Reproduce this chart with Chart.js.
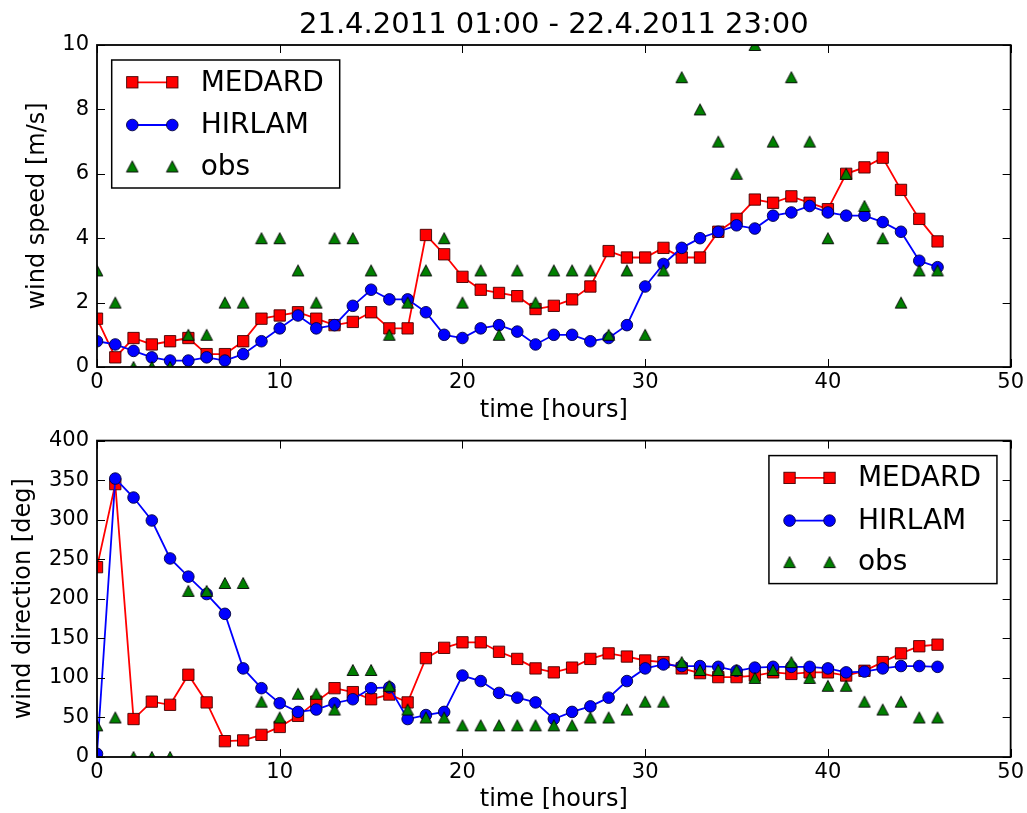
<!DOCTYPE html>
<html><head><meta charset="utf-8">
<script src="https://cdn.jsdelivr.net/npm/chart.js@4.4.1/dist/chart.umd.min.js"></script>
<style>
html,body{margin:0;padding:0;background:#fff;}
#wrap{position:relative;width:1027px;height:813px;overflow:hidden;background:#fff;}
canvas{position:absolute;left:0;}
#c1{top:0;}
#c2{top:420px;}
</style></head><body>
<div id="wrap"><canvas id="c1" width="1027" height="440"></canvas><canvas id="c2" width="1027" height="393"></canvas></div>
<script>
const titleText = '21.4.2011 01:00 - 22.4.2011 23:00';
const seriesNames = ['MEDARD', 'HIRLAM', 'obs'];
const hours = [0,1,2,3,4,5,6,7,8,9,10,11,12,13,14,15,16,17,18,19,20,21,22,23,24,25,26,27,28,29,30,31,32,33,34,35,36,37,38,39,40,41,42,43,44,45,46];

const speedMEDARD = [1.5,0.3,0.9,0.7,0.8,0.9,0.4,0.4,0.8,1.5,1.6,1.7,1.5,1.3,1.4,1.7,1.2,1.2,4.1,3.5,2.8,2.4,2.3,2.2,1.8,1.9,2.1,2.5,3.6,3.4,3.4,3.7,3.4,3.4,4.2,4.6,5.2,5.1,5.3,5.1,4.9,6.0,6.2,6.5,5.5,4.6,3.9];
const speedHIRLAM = [0.8,0.7,0.5,0.3,0.2,0.2,0.3,0.2,0.4,0.8,1.2,1.6,1.2,1.3,1.9,2.4,2.1,2.1,1.7,1.0,0.9,1.2,1.3,1.1,0.7,1.0,1.0,0.8,0.9,1.3,2.5,3.2,3.7,4.0,4.2,4.4,4.3,4.7,4.8,5.0,4.8,4.7,4.7,4.5,4.2,3.3,3.1];
const speedObs    = [3,2,0,0,0,1,1,2,2,4,4,3,2,4,4,3,1,2,3,4,2,3,1,3,2,3,3,3,1,3,1,3,9,8,7,6,10,7,9,7,4,6,5,4,2,3,3];

const dirMEDARD = [240,345,48,70,66,104,69,20,21,28,38,52,70,87,82,73,79,69,125,138,145,145,133,124,112,107,113,124,131,127,122,120,112,106,101,101,103,107,105,107,107,103,109,120,131,140,142];
const dirHIRLAM = [4,352,328,299,251,228,206,181,112,87,68,57,60,68,73,87,88,48,53,57,103,96,81,75,69,48,57,64,75,96,112,117,115,115,114,109,113,114,114,114,112,107,108,112,115,115,114];
const dirObs    = [40,50,0,0,0,210,210,220,220,70,50,80,80,60,110,110,90,60,50,50,40,40,40,40,40,40,40,50,50,60,70,70,120,110,110,110,100,110,120,100,90,90,70,60,70,50,50];

const xTicks = [0,10,20,30,40,50];
const speedTicks = [0,2,4,6,8,10];
const dirTicks = [0,50,100,150,200,250,300,350,400];

Chart.defaults.font.family = "'DejaVu Sans', sans-serif";
Chart.defaults.color = '#000';

function triangleImage() {
  const c = document.createElement('canvas');
  c.width = 14; c.height = 14;
  const g = c.getContext('2d');
  g.beginPath();
  g.moveTo(7, 1.5); g.lineTo(12.8, 12.5); g.lineTo(1.2, 12.5); g.closePath();
  g.fillStyle = '#008000'; g.fill();
  g.lineWidth = 0.9; g.strokeStyle = '#000'; g.stroke();
  return c;
}
const TRI = triangleImage();

function pts(ys) { return hours.map((h, i) => ({x: h, y: ys[i]})); }

const framePlugin = {
  id: 'mplFrame',
  afterDatasetsDraw(chart, args, opts) {
    const {ctx, chartArea: a} = chart;
    const xs = chart.scales.x, ys = chart.scales.y;
    const L = 8;
    ctx.save();
    ctx.strokeStyle = '#000';
    ctx.lineWidth = 1;
    xs.ticks.forEach(t => {
      const p = Math.round(xs.getPixelForValue(t.value)) + 0.5;
      ctx.beginPath();
      ctx.moveTo(p, a.bottom); ctx.lineTo(p, a.bottom - L);
      ctx.moveTo(p, a.top); ctx.lineTo(p, a.top + L);
      ctx.stroke();
    });
    ys.ticks.forEach(t => {
      const p = Math.round(ys.getPixelForValue(t.value)) + 0.5;
      ctx.beginPath();
      ctx.moveTo(a.left, p); ctx.lineTo(a.left + L, p);
      ctx.moveTo(a.right, p); ctx.lineTo(a.right - L, p);
      ctx.stroke();
    });
    ctx.lineWidth = 1.8;
    ctx.strokeRect(a.left, a.top, a.right - a.left, a.bottom - a.top);
    if (opts.title) {
      ctx.fillStyle = '#000';
      ctx.font = "29px 'DejaVu Sans', sans-serif";
      ctx.textAlign = 'center'; ctx.textBaseline = 'alphabetic';
      ctx.fillText(opts.title, (a.left + a.right) / 2, a.top - 12);
    }
    ctx.restore();
  }
};

const legendPlugin = {
  id: 'mplLegend',
  afterDraw(chart, args, opts) {
    const {ctx, chartArea: a} = chart;
    const W = 228, H = 128;
    const bx = opts.side === 'left' ? a.left + 14.7 : a.right - 13.7 - W;
    const by = a.top + 15;
    ctx.save();
    ctx.fillStyle = '#fff';
    ctx.fillRect(bx, by, W, H);
    ctx.lineWidth = 1.5; ctx.strokeStyle = '#000';
    ctx.strokeRect(bx, by, W, H);
    const rows = [22.3, 65, 106.5];
    const ordered = [...chart.data.datasets].sort((p, q) => q.order - p.order);
    ordered.forEach((ds, i) => {
      const y = by + rows[i];
      const m1 = bx + 20.6, m2 = bx + 60.6;
      if (ds.showLine !== false) {
        ctx.beginPath(); ctx.strokeStyle = ds.borderColor; ctx.lineWidth = ds.borderWidth;
        ctx.moveTo(m1, y); ctx.lineTo(m2, y); ctx.stroke();
      }
      [m1, m2].forEach(mx => {
        if (ds.pointStyle === 'rect') {
          const s = Math.SQRT1_2 * ds.pointRadius;
          ctx.fillStyle = ds.pointBackgroundColor; ctx.fillRect(mx - s, y - s, 2 * s, 2 * s);
          ctx.lineWidth = ds.pointBorderWidth; ctx.strokeStyle = ds.pointBorderColor;
          ctx.strokeRect(mx - s, y - s, 2 * s, 2 * s);
        } else if (ds.pointStyle === 'circle') {
          ctx.beginPath(); ctx.arc(mx, y, ds.pointRadius, 0, Math.PI * 2);
          ctx.fillStyle = ds.pointBackgroundColor; ctx.fill();
          ctx.lineWidth = ds.pointBorderWidth; ctx.strokeStyle = ds.pointBorderColor; ctx.stroke();
        } else {
          ctx.drawImage(ds.pointStyle, mx - 7, y - 7);
        }
      });
      ctx.fillStyle = '#000';
      ctx.font = "28px 'DejaVu Sans', sans-serif";
      ctx.textAlign = 'left'; ctx.textBaseline = 'middle';
      ctx.fillText(ds.label, bx + 89, y + 1);
    });
    ctx.restore();
  }
};

function buildChart(id, o) {
  return new Chart(document.getElementById(id), {
    type: 'line',
    data: {datasets: [
      {label: seriesNames[0], data: pts(o.med), borderColor: '#ff0000', backgroundColor: '#ff0000',
       pointBackgroundColor: '#ff0000', pointBorderColor: '#400000', borderWidth: 1.8,
       pointStyle: 'rect', pointRadius: 8, pointBorderWidth: 0.9, order: 3, clip: 0, tension: 0},
      {label: seriesNames[1], data: pts(o.hir), borderColor: '#0000ff', backgroundColor: '#0000ff',
       pointBackgroundColor: '#0000ff', pointBorderColor: '#000040', borderWidth: 1.8,
       pointStyle: 'circle', pointRadius: 5.8, pointBorderWidth: 0.9, order: 2, clip: 0, tension: 0},
      {label: seriesNames[2], data: pts(o.obs), showLine: false, borderColor: '#008000', backgroundColor: '#008000',
       pointBackgroundColor: '#008000', pointBorderColor: '#000', borderWidth: 0,
       pointStyle: TRI, pointRadius: 7, pointBorderWidth: 0.9, order: 1, clip: 0}
    ]},
    options: {
      responsive: false, animation: false, devicePixelRatio: 1, events: [],
      layout: {padding: o.pad},
      plugins: {
        legend: {display: false}, tooltip: {enabled: false}, title: {display: false},
        mplLegend: {side: o.legendSide},
        mplFrame: {title: o.title}
      },
      scales: {
        x: {type: 'linear', min: 0, max: 50,
          afterBuildTicks: s => { s.ticks = xTicks.map(v => ({value: v})); },
          afterFit: s => { s.height = o.xH; },
          grid: {display: false, drawTicks: false}, border: {display: false},
          ticks: {padding: 3, font: {size: 21}, autoSkip: false, maxRotation: 0},
          title: {display: true, text: 'time [hours]', font: {size: 24, lineHeight: 1},
            padding: {top: 0, bottom: o.xTitlePad}}},
        y: {type: 'linear', min: o.ymin, max: o.ymax,
          afterBuildTicks: s => { s.ticks = o.yTicks.map(v => ({value: v})); },
          afterFit: s => { s.width = 97; },
          grid: {display: false, drawTicks: false}, border: {display: false},
          ticks: {padding: 8, font: {size: 21}, autoSkip: false},
          title: {display: true, text: o.ylabel, font: {size: 24, lineHeight: 1},
            padding: {top: o.yTitlePad, bottom: 0}}}
      }
    },
    plugins: [framePlugin, legendPlugin]
  });
}

buildChart('c1', {med: speedMEDARD, hir: speedHIRLAM, obs: speedObs, ymin: 0, ymax: 10, yTicks: speedTicks,
  ylabel: 'wind speed [m/s]', title: titleText, pad: {top: 45, left: 0, right: 15, bottom: 0},
  xH: 73, xTitlePad: 17, yTitlePad: 25.5, legendSide: 'left'});
buildChart('c2', {med: dirMEDARD, hir: dirHIRLAM, obs: dirObs, ymin: 0, ymax: 400, yTicks: dirTicks,
  ylabel: 'wind direction [deg]', title: null, pad: {top: 13, left: 0, right: 15, bottom: 0},
  xH: 56, xTitlePad: 1, yTitlePad: 12, legendSide: 'right'});
</script>
</body></html>
